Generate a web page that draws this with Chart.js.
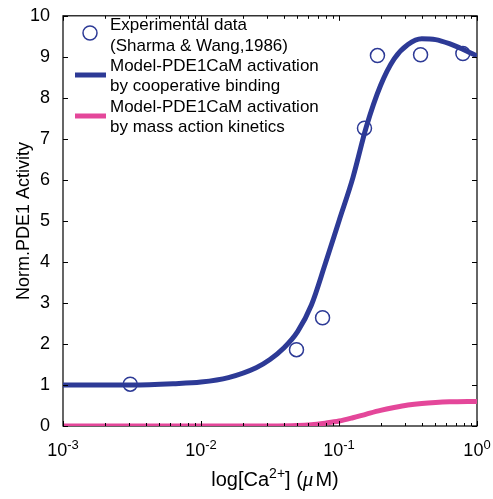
<!DOCTYPE html>
<html>
<head>
<meta charset="utf-8">
<script src="https://cdn.jsdelivr.net/npm/chart.js@4.4.1/dist/chart.umd.min.js"></script>
<style>
  html, body { margin: 0; padding: 0; background: #fff; }
  #wrap { width: 493px; height: 499px; }
</style>
</head>
<body>
<div id="wrap"><canvas id="chart"></canvas></div>
<script>
// experimental points (Sharma & Wang, 1986)
var expX = [0.00307, 0.0492, 0.076, 0.153, 0.19, 0.39, 0.79];
var expY = [1.02, 1.86, 2.64, 7.26, 9.03, 9.05, 9.08];

// model, cooperative binding
var coopX = [0.001, 0.00316, 0.0063, 0.01, 0.0158, 0.0251, 0.0316, 0.0398, 0.0501, 0.0631, 0.0794, 0.1,
             0.126, 0.158, 0.2, 0.251, 0.316, 0.398, 0.501, 0.631, 0.794, 1.0];
var coopY = [1.0, 1.0, 1.03, 1.07, 1.18, 1.42, 1.62, 1.9, 2.3, 2.95, 3.95, 5.0,
             6.05, 7.3, 8.3, 8.95, 9.3, 9.44, 9.42, 9.32, 9.18, 9.02];

// model, mass action kinetics
var massX = [0.001, 0.01, 0.0316, 0.0501, 0.0631, 0.0794, 0.1, 0.126, 0.158, 0.2, 0.251, 0.316, 0.398, 0.501, 0.631, 1.0];
var massY = [0, 0, 0, 0.01, 0.03, 0.07, 0.12, 0.2, 0.29, 0.38, 0.45, 0.51, 0.55, 0.575, 0.59, 0.6];

var xDecades = [-3, -2, -1, 0];
var yTicks = [0, 1, 2, 3, 4, 5, 6, 7, 8, 9, 10];

var legendLines = [
  ['Experimental data', '(Sharma & Wang,1986)'],
  ['Model-PDE1CaM activation', 'by cooperative binding'],
  ['Model-PDE1CaM activation', 'by mass action kinetics']
];

var blue = '#2d3a96';
var pink = '#e4479a';
var fam = '"Liberation Sans", Arial, Helvetica, sans-serif';

function pts(xs, ys) {
  var out = [];
  for (var i = 0; i < xs.length; i++) out.push({x: xs[i], y: ys[i]});
  return out;
}

// box, inward ticks, x labels, x title and legend
var decor = {
  id: 'decor',
  beforeDatasetsDraw: function(chart) {
    var ctx = chart.ctx, a = chart.chartArea;
    ctx.save();
    ctx.strokeStyle = '#000';
    ctx.lineWidth = 1.2;
    ctx.strokeRect(a.left, a.top, a.right - a.left, a.bottom - a.top);
    ctx.restore();
  },
  afterDatasetsDraw: function(chart) {
    var ctx = chart.ctx, a = chart.chartArea;
    var xs = chart.scales.x, ys = chart.scales.y;
    ctx.save();
    ctx.strokeStyle = '#000';
    ctx.lineWidth = 1;
    ctx.beginPath();
    // x ticks top and bottom
    for (var i = 0; i < xDecades.length; i++) {
      for (var m = 1; m <= 9; m++) {
        var v = m * Math.pow(10, xDecades[i]);
        if (v > 1.0001) break;
        var px = Math.round(xs.getPixelForValue(v)) + 0.5;
        var len = m === 1 ? 5 : 3;
        ctx.moveTo(px, a.bottom); ctx.lineTo(px, a.bottom - len);
        ctx.moveTo(px, a.top); ctx.lineTo(px, a.top + len);
      }
    }
    // y ticks left and right
    for (var j = 0; j < yTicks.length; j++) {
      var py = Math.round(ys.getPixelForValue(yTicks[j])) + 0.5;
      ctx.moveTo(a.left, py); ctx.lineTo(a.left + 5, py);
      ctx.moveTo(a.right, py); ctx.lineTo(a.right - 5, py);
    }
    ctx.stroke();

    // x tick labels 10^n
    ctx.fillStyle = '#000';
    ctx.textBaseline = 'alphabetic';
    ctx.textAlign = 'left';
    for (var k = 0; k < xDecades.length; k++) {
      var cx = xs.getPixelForValue(Math.pow(10, xDecades[k]));
      var ex = String(xDecades[k]);
      ctx.font = '18px ' + fam;
      var w1 = ctx.measureText('10').width;
      ctx.font = '13px ' + fam;
      var w2 = ctx.measureText(ex).width;
      var sx = cx - (w1 + w2) / 2;
      ctx.font = '18px ' + fam;
      ctx.fillText('10', sx, 456);
      ctx.font = '13px ' + fam;
      ctx.fillText(ex, sx + w1, 449);
    }

    // x axis title: log[Ca2+] (uM)
    var parts = [
      {t: 'log[Ca', f: '20px ' + fam, dy: 0},
      {t: '2+', f: '14px ' + fam, dy: -8},
      {t: '] (', f: '20px ' + fam, dy: 0},
      {t: '\u03bc', f: 'italic 21px "Liberation Serif", serif', dy: 0},
      {t: 'M)', f: '20px ' + fam, dy: 0}
    ];
    var total = 0;
    for (var p = 0; p < parts.length; p++) {
      ctx.font = parts[p].f;
      parts[p].w = ctx.measureText(parts[p].t).width + (p === 3 ? 2 : 0);
      total += parts[p].w;
    }
    var tx = 275 - total / 2;
    for (var q = 0; q < parts.length; q++) {
      ctx.font = parts[q].f;
      ctx.fillText(parts[q].t, tx, 486 + parts[q].dy);
      tx += parts[q].w;
    }

    // legend
    ctx.lineWidth = 1.5;
    ctx.strokeStyle = blue;
    ctx.beginPath();
    ctx.arc(90, 33, 7, 0, Math.PI * 2);
    ctx.stroke();
    ctx.lineWidth = 5;
    ctx.beginPath(); ctx.moveTo(75, 75); ctx.lineTo(106, 75); ctx.stroke();
    ctx.strokeStyle = pink;
    ctx.beginPath(); ctx.moveTo(75, 116); ctx.lineTo(106, 116); ctx.stroke();
    ctx.font = '17px ' + fam;
    ctx.fillStyle = '#000';
    var base = [30, 50.5, 71, 91, 111.5, 132];
    var n = 0;
    for (var r = 0; r < legendLines.length; r++) {
      for (var s = 0; s < legendLines[r].length; s++) {
        ctx.fillText(legendLines[r][s], 110, base[n++]);
      }
    }
    ctx.restore();
  }
};

new Chart(document.getElementById('chart'), {
  type: 'line',
  data: {
    datasets: [
      {
        label: 'cooperative binding',
        data: pts(coopX, coopY),
        borderColor: blue,
        borderWidth: 5,
        pointRadius: 0,
        cubicInterpolationMode: 'monotone',
        fill: false
      },
      {
        label: 'mass action kinetics',
        data: pts(massX, massY),
        borderColor: pink,
        borderWidth: 5,
        pointRadius: 0,
        cubicInterpolationMode: 'monotone',
        fill: false
      },
      {
        label: 'Experimental data',
        data: pts(expX, expY),
        showLine: false,
        borderColor: blue,
        backgroundColor: 'rgba(0,0,0,0)',
        borderWidth: 1.5,
        pointRadius: 7,
        pointStyle: 'circle'
      }
    ]
  },
  options: {
    responsive: true,
    maintainAspectRatio: false,
    animation: false,
    devicePixelRatio: 1,
    layout: { padding: { top: 13, right: 16, bottom: 73, left: 0 } },
    plugins: { legend: { display: false }, tooltip: { enabled: false } },
    scales: {
      x: {
        type: 'logarithmic',
        min: 0.001,
        max: 1,
        display: false
      },
      y: {
        min: 0,
        max: 10,
        grid: { display: false },
        border: { display: false },
        ticks: {
          stepSize: 1,
          color: '#000',
          padding: 5,
          font: { family: fam, size: 18 }
        },
        title: {
          display: true,
          text: 'Norm.PDE1 Activity',
          color: '#000',
          font: { family: fam, size: 18 },
          padding: { top: 13, bottom: 0 }
        },
        afterFit: function(s) { s.width = 63; }
      }
    }
  },
  plugins: [decor]
});
</script>
</body>
</html>
